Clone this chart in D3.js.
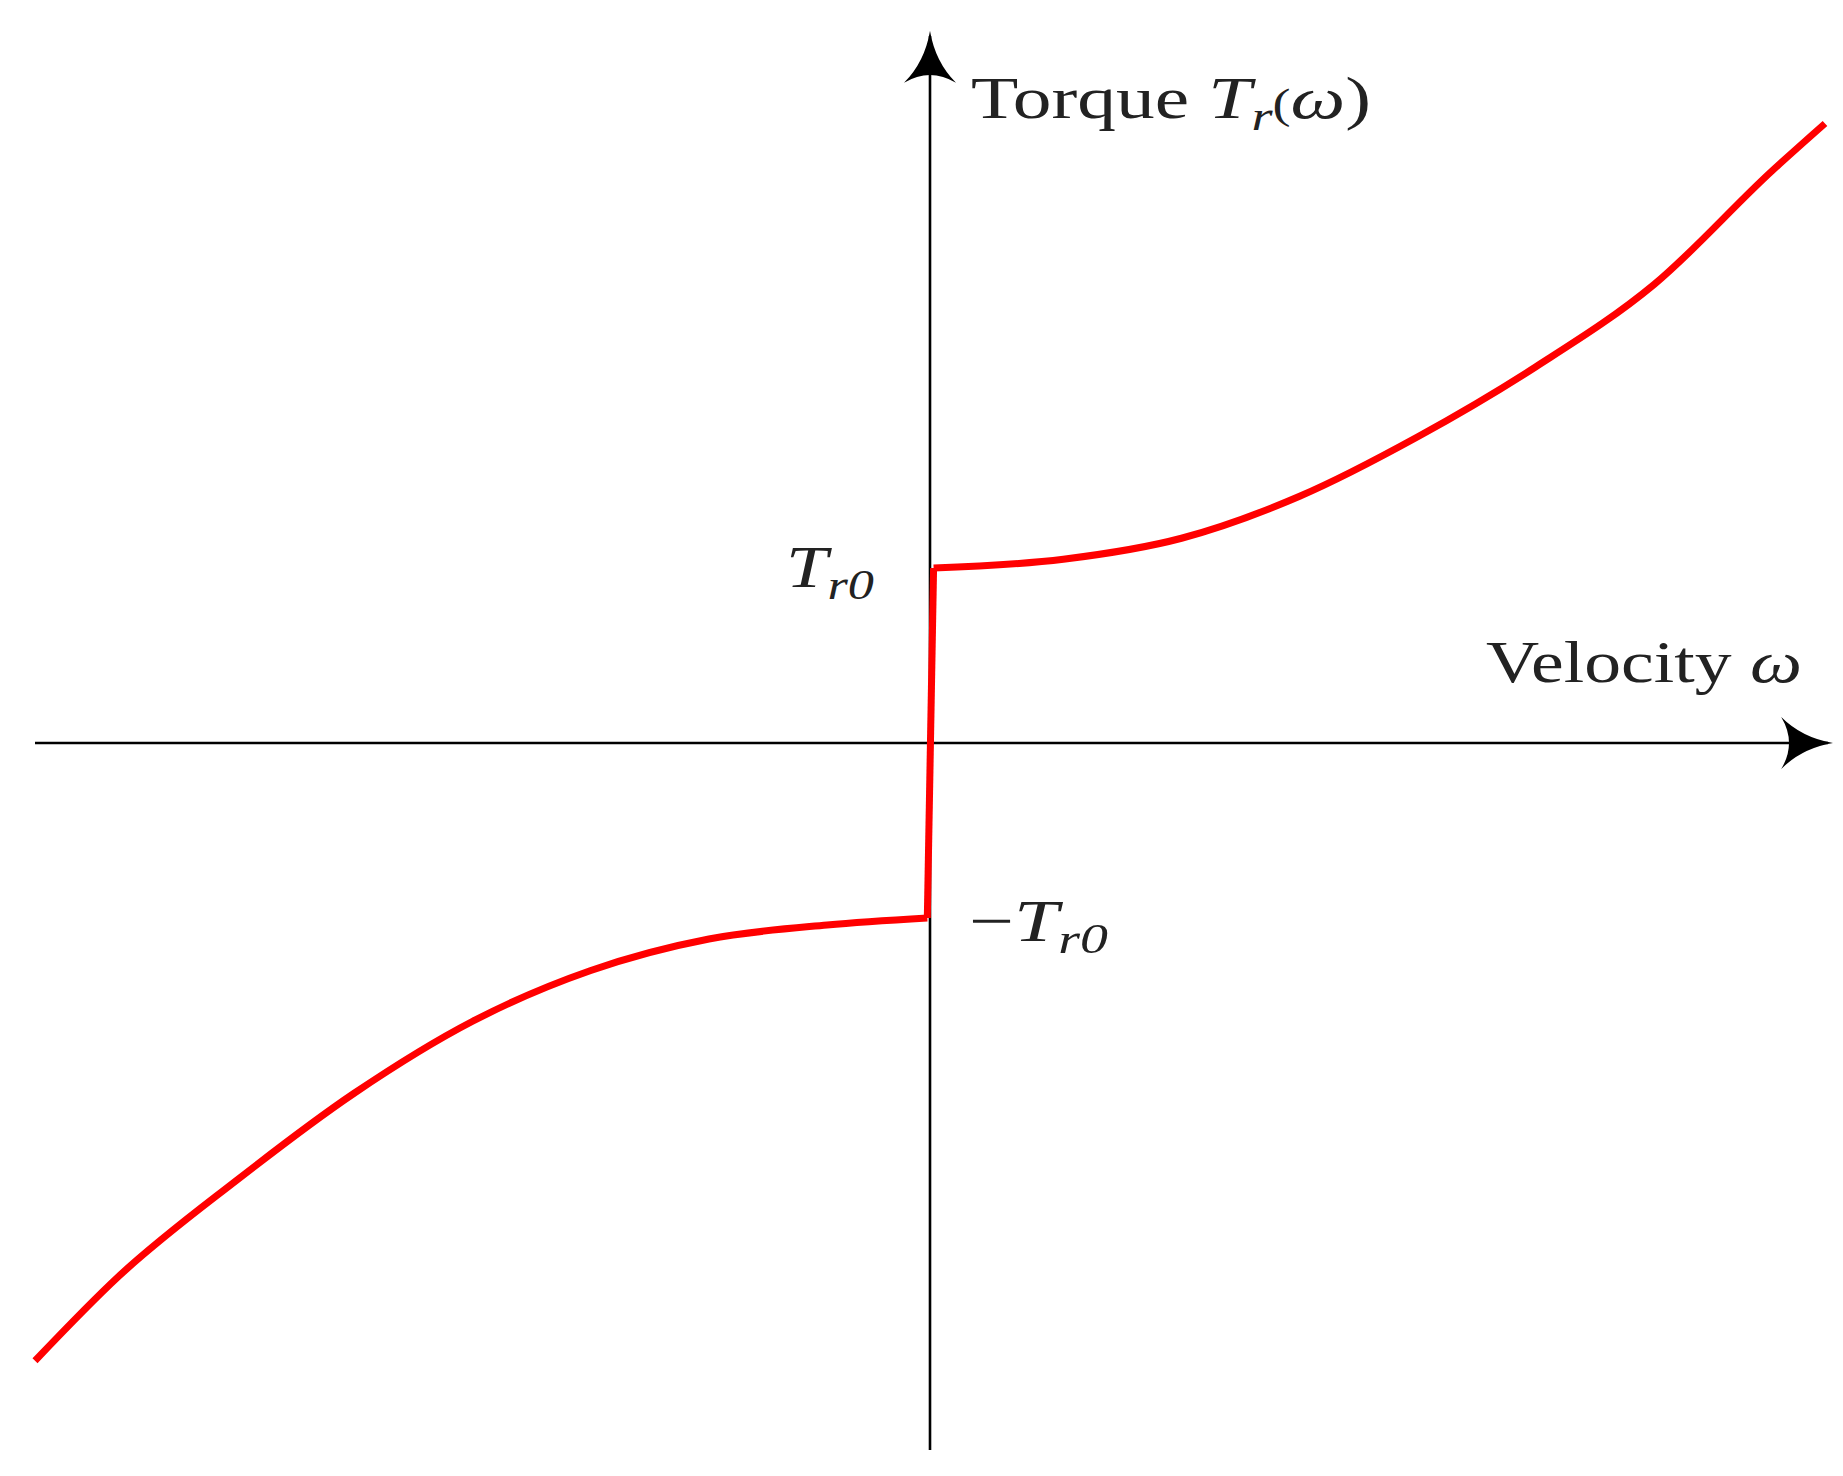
<!DOCTYPE html>
<html><head><meta charset="utf-8">
<script src="https://cdn.jsdelivr.net/npm/d3@7"></script>
<style>body{margin:0;background:#fff}</style>
</head><body>
<svg id="chart" width="1843" height="1476"></svg>
<script>
// velocity (normalised) and torque (in units of Tr0)
const velocity = [-1.0, -0.907, -0.775, -0.643, -0.511, -0.379, -0.247, -0.115, -0.003,
                  0.004, 0.149, 0.281, 0.413, 0.545, 0.677, 0.809, 0.941, 1.0];
const torque = [-3.53, -3.05, -2.5, -2.0, -1.59, -1.30, -1.12, -1.04, -1.0,
                1.0, 1.05, 1.17, 1.41, 1.75, 2.15, 2.62, 3.27, 3.54];

const svg = d3.select("#chart");
const x = d3.scaleLinear().domain([0, 1]).range([930, 1825]);
const y = d3.scaleLinear().domain([0, 1]).range([743, 568]);

const defs = svg.append("defs");
defs.append("marker").attr("id", "arr")
  .attr("viewBox", "0 0 20 20").attr("refX", 18).attr("refY", 10)
  .attr("markerWidth", 20).attr("markerHeight", 20).attr("markerUnits", "userSpaceOnUse")
  .attr("orient", "auto")
  .append("path").attr("d", "M0,0 Q8,8 20,10 Q8,12 0,20 Q6,10 0,0 Z").attr("fill", "#000");

defs.select("marker").attr("markerWidth", 52).attr("markerHeight", 52)
  .attr("viewBox", "0 0 20 20");

svg.append("line")
  .attr("x1", x(-1.0)).attr("x2", 1828).attr("y1", y(0)).attr("y2", y(0))
  .attr("stroke", "#000").attr("stroke-width", 2.6).attr("marker-end", "url(#arr)");
svg.append("line")
  .attr("x1", x(0)).attr("x2", x(0)).attr("y1", 1450).attr("y2", 36)
  .attr("stroke", "#000").attr("stroke-width", 2.6).attr("marker-end", "url(#arr)");

const pts = velocity.map((v, i) => [v, torque[i]]);
const lower = pts.slice(0, 9), upper = pts.slice(9);
const line = d3.line().x(d => x(d[0])).y(d => y(d[1])).curve(d3.curveMonotoneX);
[lower, upper].forEach(seg => svg.append("path").attr("d", line(seg))
  .attr("fill", "none").attr("stroke", "#ff0000").attr("stroke-width", 7));
svg.append("path").attr("d", d3.line().x(d => x(d[0])).y(d => y(d[1]))([lower[8], upper[0]]))
  .attr("fill", "none").attr("stroke", "#ff0000").attr("stroke-width", 7);

const font = "'Liberation Serif', 'DejaVu Serif', serif";
function label(xp, yp, parts, len) {
  const t = svg.append("text").attr("x", xp).attr("y", yp)
    .attr("font-family", font).attr("font-size", 60).attr("fill", "#222")
    .attr("textLength", len).attr("lengthAdjust", "spacingAndGlyphs");
  parts.forEach(p => {
    const s = t.append("tspan").text(p[0]);
    if (p[1]) s.attr("font-style", "italic");
    if (p[2]) s.attr("font-size", 42).attr("dy", p[2]);
  });
}
label(971, 118, [["Torque "], ["T", 1], ["r", 1, 12], ["(", 0, -12], ["ω", 1], [")"]], 400);
label(1486, 682, [["Velocity "], ["ω", 1]], 316);
label(786, 587, [["T", 1], ["r0", 1, 12]], 88);
label(969, 941, [["−"], ["T", 1], ["r0", 1, 12]], 139);
</script>
</body></html>
